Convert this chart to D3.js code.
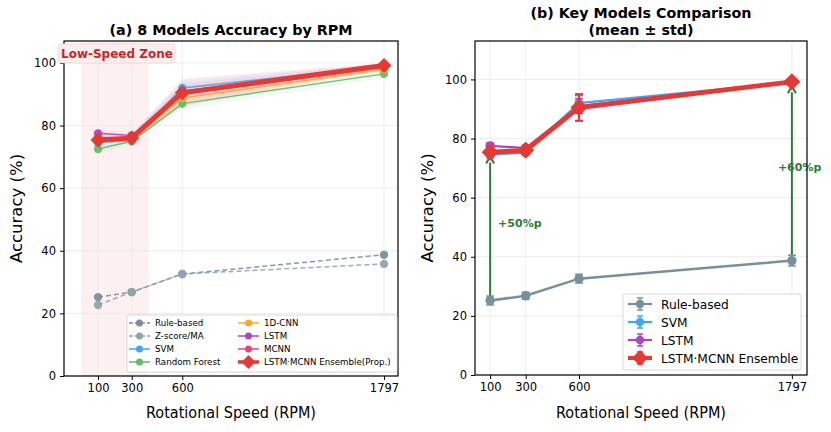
<!DOCTYPE html>
<html><head><meta charset="utf-8">
<script src="https://cdn.jsdelivr.net/npm/d3@7"></script>
<style>body{margin:0;background:#fff;} text{font-family:"DejaVu Sans",sans-serif;}</style>
</head><body>
<svg id="c" width="831" height="432"></svg>
<script>
const rpm = [100, 300, 600, 1797];
const xTicks = [100, 300, 600, 1797];
const yTicksA = [0, 20, 40, 60, 80, 100];
const yTicksB = [0, 20, 40, 60, 80, 100];

const models = ["Rule-based","Z-score/MA","SVM","Random Forest","1D-CNN","LSTM","MCNN","LSTM·MCNN Ensemble(Prop.)"];
const colors = ["#78909c","#90a4ae","#42a5f5","#66bb6a","#ffa726","#ab47bc","#ec407a","#e53935"];
const ruleBased = [25.2, 26.8, 32.6, 38.7];
const zscore    = [22.7, 26.8, 32.6, 35.8];
const svm       = [74.5, 75.3, 92.0, 99.0];
const rf        = [72.5, 75.0, 87.0, 96.5];
const cnn1d     = [75.5, 75.5, 88.8, 98.0];
const lstm      = [77.5, 76.8, 91.0, 99.0];
const mcnn      = [76.0, 76.0, 90.0, 98.5];
const ensemble  = [75.4, 76.0, 90.5, 99.2];
const values = [ruleBased, zscore, svm, rf, cnn1d, lstm, mcnn, ensemble];
const stds = [
  [1.5, 1.2, 1.5, 1.8],
  [1.5, 1.2, 1.5, 1.8],
  [1.2, 1.0, 2.5, 0.8],
  [1.5, 1.2, 2.0, 1.2],
  [1.2, 1.0, 2.5, 1.0],
  [1.0, 1.0, 2.5, 0.8],
  [1.2, 1.0, 2.5, 0.9],
  [1.0, 1.0, 4.5, 0.8]
];
const keyIdx = [0, 2, 5, 7];
const keyNames = ["Rule-based","SVM","LSTM","LSTM·MCNN Ensemble"];
const zone = [0, 400];

const svg = d3.select("#c");
const gridC = "#ebebeb";

function panel(x0, x1, y0, y1, xdom, ydom, yticks){
  const x = d3.scaleLinear().domain(xdom).range([x0, x1]);
  const y = d3.scaleLinear().domain(ydom).range([y1, y0]);
  const g = svg.append("g");
  return {x, y, g, x0, x1, y0, y1, yticks};
}
function axes(p){
  const {x,y,g,x0,x1,y0,y1,yticks} = p;
  const grid = g.append("g");
  xTicks.forEach(t=>grid.append("line").attr("x1",x(t)).attr("x2",x(t)).attr("y1",y0).attr("y2",y1).attr("stroke",gridC).attr("stroke-width",0.9));
  yticks.forEach(t=>grid.append("line").attr("x1",x0).attr("x2",x1).attr("y1",y(t)).attr("y2",y(t)).attr("stroke",gridC).attr("stroke-width",0.9));
  return grid;
}
function frame(p){
  const {x,y,g,x0,x1,y0,y1,yticks} = p;
  g.append("rect").attr("x",x0).attr("y",y0).attr("width",x1-x0).attr("height",y1-y0).attr("fill","none").attr("stroke","#000").attr("stroke-width",1.2);
  const xa = g.append("g").attr("transform",`translate(0,${y1})`).call(d3.axisBottom(x).tickValues(xTicks).tickSize(4).tickPadding(4).tickFormat(d3.format("d")));
  const ya = g.append("g").attr("transform",`translate(${x0},0)`).call(d3.axisLeft(y).tickValues(yticks).tickSize(4).tickPadding(4));
  [xa,ya].forEach(a=>{a.select(".domain").remove(); a.selectAll("text").attr("font-size",11.5).attr("fill","#000").style("font-family","DejaVu Sans"); a.selectAll("line").attr("stroke","#000");});
  g.append("text").attr("x",(x0+x1)/2 - 85).attr("y",418).attr("font-size",16.5)
    .attr("textLength",170).attr("lengthAdjust","spacingAndGlyphs").text("Rotational Speed (RPM)");
  g.append("text").attr("transform",`translate(${x0-42},${(y0+y1)/2}) rotate(-90)`).attr("text-anchor","middle").attr("font-size",16.5).text("Accuracy (%)");
}
function dia(h){ return `M0,${-h} L${h},0 L0,${h} L${-h},0 Z`; }

// ---------- Panel A ----------
const A = panel(64, 398, 41, 376, [-102, 1880], [0, 107], yTicksA);
A.g.append("rect").attr("x",A.x(zone[0])).attr("y",A.y0).attr("width",A.x(zone[1])-A.x(zone[0])).attr("height",A.y1-A.y0).attr("fill","#fdf0f0");
axes(A);
values.forEach((v,i)=>{
  if(i<2) return;
  const area = d3.area().x((d,j)=>A.x(rpm[j])).y0((d,j)=>A.y(d-stds[i][j])).y1((d,j)=>A.y(d+stds[i][j]));
  A.g.append("path").attr("d",area(v)).attr("fill",colors[i]).attr("opacity",0.08);
});
const lineA = d3.line().x((d,j)=>A.x(rpm[j])).y(d=>A.y(d));
values.forEach((v,i)=>{
  const isE = i===7;
  A.g.append("path").attr("d",lineA(v)).attr("fill","none").attr("stroke",colors[i])
    .attr("stroke-width", isE?4.8:1.5).attr("stroke-dasharray", i<2?"5,3":null).attr("opacity", isE?1:0.9);
  v.forEach((d,j)=>{
    if(isE){
      A.g.append("path").attr("d",dia(7.5)).attr("transform",`translate(${A.x(rpm[j])},${A.y(d)})`).attr("fill",colors[i]);
    } else {
      A.g.append("circle").attr("cx",A.x(rpm[j])).attr("cy",A.y(d)).attr("r",4.2).attr("fill",colors[i]).attr("opacity",0.95);
    }
  });
});
frame(A);
A.g.append("text").attr("x",(A.x0+A.x1)/2).attr("y",35).attr("text-anchor","middle").attr("font-size",14.3).attr("font-weight","bold").text("(a) 8 Models Accuracy by RPM");
A.g.append("rect").attr("x",58).attr("y",44).attr("width",117).attr("height",19).attr("rx",3).attr("fill","#fdeeee").attr("stroke","#f5d0d0").attr("stroke-width",0.8);
A.g.append("text").attr("x",61).attr("y",58).attr("font-size",12).attr("font-weight","bold").attr("fill","#c62828").text("Low-Speed Zone");
const LA = A.g.append("g");
LA.append("rect").attr("x",127).attr("y",315).attr("width",270).attr("height",57).attr("rx",2).attr("fill","#fff").attr("fill-opacity",0.85).attr("stroke","#cfcfcf").attr("stroke-width",0.8);
models.forEach((m,i)=>{
  const col = i<4?0:1;
  const row = i%4;
  const hx = col===0?129:238;
  const hy = 323+row*13;
  LA.append("line").attr("x1",hx).attr("x2",hx+21).attr("y1",hy).attr("y2",hy).attr("stroke",colors[i]).attr("stroke-width",i===7?3.5:1.5).attr("stroke-dasharray",i<2?"4,2":null);
  if(i===7) LA.append("path").attr("d",dia(7)).attr("transform",`translate(${hx+10.5},${hy})`).attr("fill",colors[i]);
  else LA.append("circle").attr("cx",hx+10.5).attr("cy",hy).attr("r",3.5).attr("fill",colors[i]);
  LA.append("text").attr("x",hx+26).attr("y",hy+3).attr("font-size",8.7).text(m);
});

// ---------- Panel B ----------
const B = panel(475, 807, 41, 375, [15, 1882], [0, 113], yTicksB);
axes(B);
const lineB = d3.line().x((d,j)=>B.x(rpm[j])).y(d=>B.y(d));
const keyW = [2.5, 2.2, 2.2, 4.8];
function errbar(g, cx, cy0, cy1, col, w, cap){
  g.append("line").attr("x1",cx).attr("x2",cx).attr("y1",cy0).attr("y2",cy1).attr("stroke",col).attr("stroke-width",w);
  [cy0,cy1].forEach(yy=>g.append("line").attr("x1",cx-cap).attr("x2",cx+cap).attr("y1",yy).attr("y2",yy).attr("stroke",col).attr("stroke-width",w));
}
const arrowC = "#2e7d32";
const arrowPairs = [[0, "+50%p"], [3, "+60%p"]];
arrowPairs.forEach(([j,label])=>{
  const cx = B.x(rpm[j]);
  const ya = B.y(ruleBased[j]), yb = B.y(ensemble[j]-1.5);
  B.g.append("line").attr("x1",cx).attr("x2",cx).attr("y1",ya).attr("y2",yb+6).attr("stroke",arrowC).attr("stroke-width",2);
  B.g.append("path").attr("d",`M${cx-4},${yb+7} L${cx},${yb} L${cx+4},${yb+7}`).attr("fill","none").attr("stroke",arrowC).attr("stroke-width",2);
});
keyIdx.forEach((mi,k)=>{
  const v = values[mi], s = stds[mi], col = colors[mi];
  B.g.append("path").attr("d",lineB(v)).attr("fill","none").attr("stroke",col).attr("stroke-width",keyW[k]);
  v.forEach((d,j)=>{
    errbar(B.g, B.x(rpm[j]), B.y(d-s[j]), B.y(d+s[j]), col, k===3?2.2:1.5, 4);
    if(k===3) B.g.append("path").attr("d",dia(8.5)).attr("transform",`translate(${B.x(rpm[j])},${B.y(d)})`).attr("fill",col);
    else B.g.append("circle").attr("cx",B.x(rpm[j])).attr("cy",B.y(d)).attr("r",4.7).attr("fill",col);
  });
});
B.g.append("text").attr("x",B.x(rpm[0])+8).attr("y",B.y(50)).attr("font-size",11).attr("font-weight","bold").attr("fill",arrowC).text("+50%p");
B.g.append("text").attr("x",B.x(rpm[3])-14).attr("y",B.y(69)).attr("font-size",11).attr("font-weight","bold").attr("fill",arrowC).text("+60%p");
frame(B);
B.g.append("text").attr("x",(B.x0+B.x1)/2).attr("y",18).attr("text-anchor","middle").attr("font-size",14.3).attr("font-weight","bold").text("(b) Key Models Comparison");
B.g.append("text").attr("x",(B.x0+B.x1)/2).attr("y",35).attr("text-anchor","middle").attr("font-size",14.3).attr("font-weight","bold").text("(mean ± std)");
const LB = B.g.append("g");
LB.append("rect").attr("x",623).attr("y",294).attr("width",178).attr("height",76).attr("rx",2).attr("fill","#fff").attr("fill-opacity",0.85).attr("stroke","#cfcfcf").attr("stroke-width",0.8);
keyIdx.forEach((mi,k)=>{
  const hy = 304 + k*18, hx = 628, col = colors[mi];
  LB.append("line").attr("x1",hx).attr("x2",hx+24).attr("y1",hy).attr("y2",hy).attr("stroke",col).attr("stroke-width",k===3?4:2.2);
  errbar(LB, hx+12, hy-6, hy+6, col, 1.5, 3);
  if(k===3) LB.append("path").attr("d",dia(8)).attr("transform",`translate(${hx+12},${hy})`).attr("fill",col);
  else LB.append("circle").attr("cx",hx+12).attr("cy",hy).attr("r",4.2).attr("fill",col);
  LB.append("text").attr("x",hx+33).attr("y",hy+4.5).attr("font-size",12.2).text(keyNames[k]);
});
</script>
</body></html>
